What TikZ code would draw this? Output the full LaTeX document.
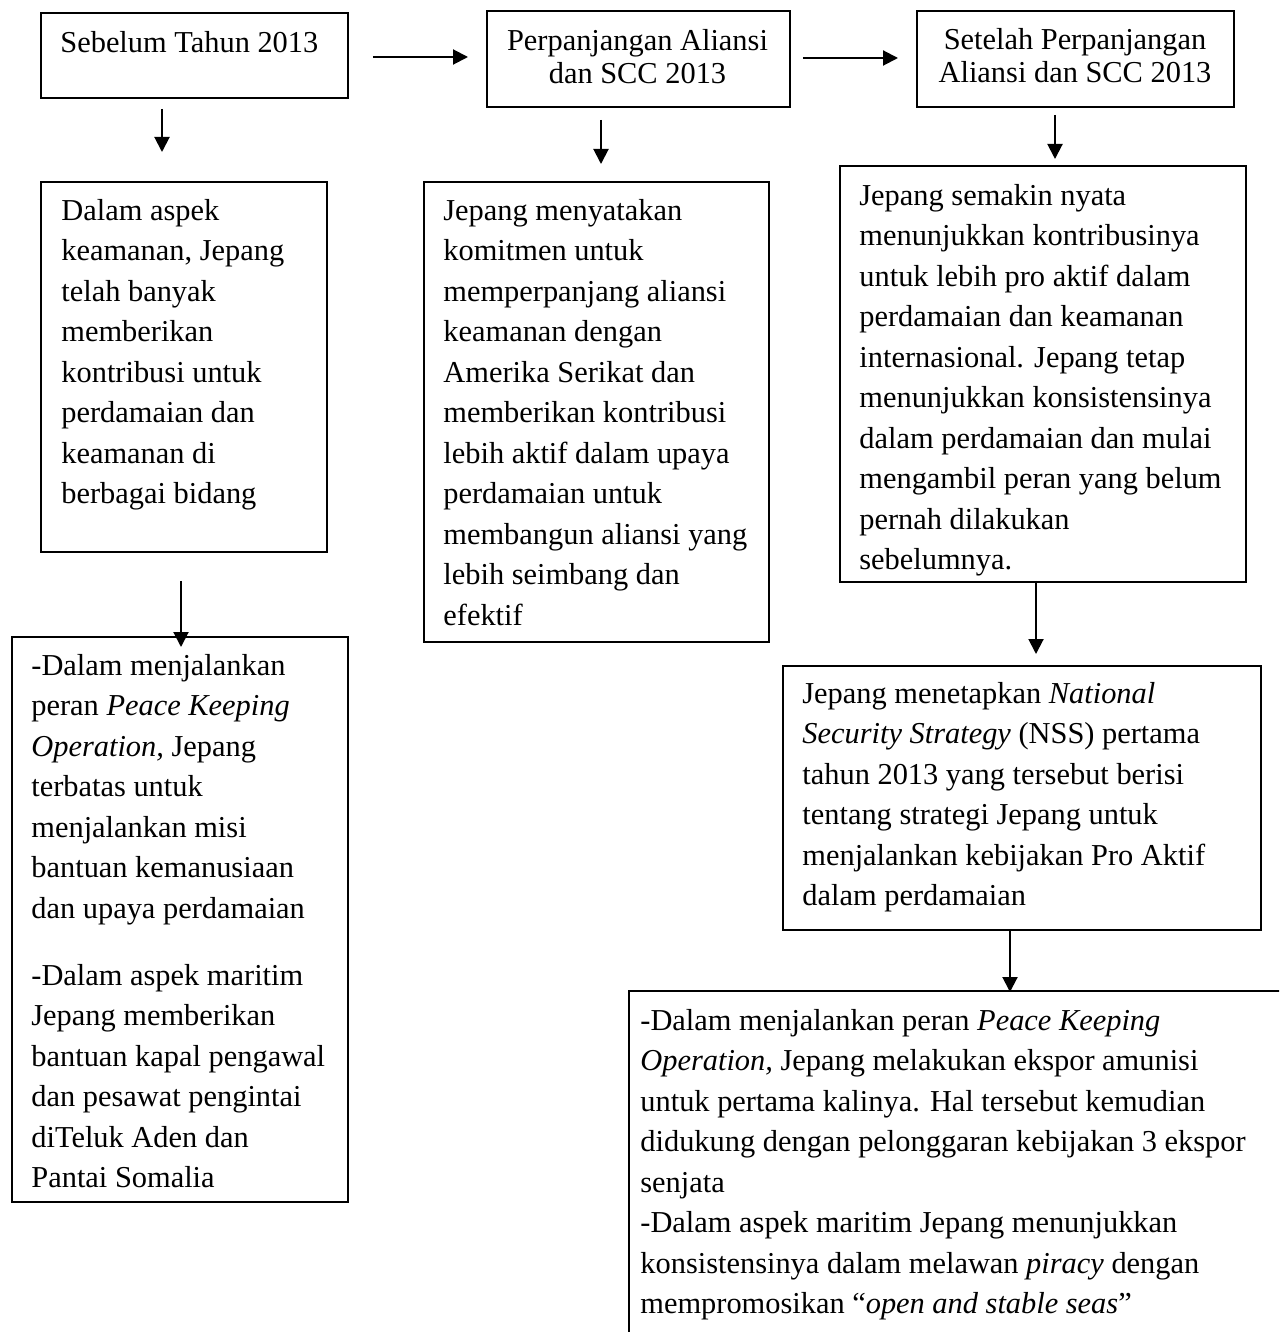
\documentclass[tikz,border=0pt]{standalone}
\usepackage{fontspec}
\setmainfont{Liberation Serif}
\usetikzlibrary{arrows.meta}
\begin{document}
\begin{tikzpicture}[x=0.5pt,y=-0.5pt,
  box/.style={draw,line width=0.9pt,inner sep=0pt,anchor=north west},
  txt/.style={inner sep=0pt,anchor=north west,align=left,font=\fontsize{15.2}{20.25}\selectfont},
  ctxt/.style={txt,anchor=north,align=center,font=\fontsize{15.2}{16.75}\selectfont},
  arr/.style={line width=1pt,-{Triangle[length=7.5pt,width=7.5pt]}}]
\useasboundingbox (0,0) rectangle (1279,1332);
\clip (0,0) rectangle (1279,1332);

% boxes
\node[box,minimum width=153.5pt,minimum height=42.5pt] (A) at (40,12) {};
\node[box,minimum width=151.5pt,minimum height=48pt] (B) at (486,10) {};
\node[box,minimum width=158.5pt,minimum height=48pt] (C) at (916,10) {};
\node[box,minimum width=143pt,minimum height=185pt] (D) at (40,181) {};
\node[box,minimum width=168pt,minimum height=282.5pt] (E) at (11,636) {};
\node[box,minimum width=172.5pt,minimum height=230pt] (F) at (423,181) {};
\node[box,minimum width=203pt,minimum height=208pt] (G) at (839,165) {};
\node[box,minimum width=239pt,minimum height=132pt] (H) at (782,665) {};
\node[box,minimum width=350pt,minimum height=200pt] (I) at (628,990) {};

% texts
\node[txt] (tA) at (60,23.6) {\strut Sebelum Tahun 2013};
\node[ctxt] (tB) at (637.5,26.5) {\strut Perpanjangan Aliansi\\dan SCC 2013};
\node[ctxt] (tC) at (1075,25.5) {\strut Setelah Perpanjangan\\Aliansi dan SCC 2013};
\node[txt] (tD) at (61,191.6) {\strut Dalam aspek\\keamanan, Jepang\\telah banyak\\memberikan\\kontribusi untuk\\perdamaian dan\\keamanan di\\berbagai bidang};
\node[txt] (tE) at (31,646.6) {\strut -Dalam menjalankan\\peran \textit{Peace Keeping}\\\textit{Operation,} Jepang\\terbatas untuk\\menjalankan misi\\bantuan kemanusiaan\\dan upaya perdamaian\\[13.25pt]-Dalam aspek maritim\\Jepang memberikan\\bantuan kapal pengawal\\dan pesawat pengintai\\diTeluk Aden dan\\Pantai Somalia};
\node[txt] (tF) at (443,191.6) {\strut Jepang menyatakan\\komitmen untuk\\memperpanjang aliansi\\keamanan dengan\\Amerika Serikat dan\\memberikan kontribusi\\lebih aktif dalam upaya\\perdamaian untuk\\membangun aliansi yang\\lebih seimbang dan\\efektif};
\node[txt] (tG) at (859,176.6) {\strut Jepang semakin nyata\\menunjukkan kontribusinya\\untuk lebih pro aktif dalam\\perdamaian dan keamanan\\internasional. Jepang tetap\\menunjukkan konsistensinya\\dalam perdamaian dan mulai\\mengambil peran yang belum\\pernah dilakukan\\sebelumnya.};
\node[txt] (tH) at (802,674.6) {\strut Jepang menetapkan \textit{National}\\\textit{Security Strategy} (NSS) pertama\\tahun 2013 yang tersebut berisi\\tentang strategi Jepang untuk\\menjalankan kebijakan Pro Aktif\\dalam perdamaian};
\node[txt] (tI) at (640,1001.6) {\strut -Dalam menjalankan peran \textit{Peace Keeping}\\\textit{Operation,} Jepang melakukan ekspor amunisi\\untuk pertama kalinya. Hal tersebut kemudian\\didukung dengan pelonggaran kebijakan 3 ekspor\\senjata\\-Dalam aspek maritim Jepang menunjukkan\\konsistensinya dalam melawan \textit{piracy} dengan\\mempromosikan “\textit{open and stable seas}”};

% arrow guide coordinates
\coordinate (yAB) at (0,57);
\coordinate (yBC) at (0,58);
\coordinate (xAD) at (162,0);
\coordinate (xBF) at (601,0);
\coordinate (xCG) at (1055,0);
\coordinate (xDE) at (181,0);
\coordinate (xGH) at (1036,0);
\coordinate (xHI) at (1010,0);

% arrows
\draw[arr,shorten <=12pt,shorten >=9pt] (A.east |- yAB) -- (B.west |- yAB);
\draw[arr,shorten <=6pt,shorten >=9pt] (B.east |- yBC) -- (C.west |- yBC);
\draw[arr,shorten <=5pt,shorten >=14.5pt] (A.south -| xAD) -- (D.north -| xAD);
\draw[arr,shorten <=6pt,shorten >=8.5pt] (B.south -| xBF) -- (F.north -| xBF);
\draw[arr,shorten <=3.5pt,shorten >=3pt] (C.south -| xCG) -- (G.north -| xCG);
\draw[arr,shorten <=14pt,shorten >=-5.5pt] (D.south -| xDE) -- (E.north -| xDE);
\draw[arr,shorten <=-1pt,shorten >=5.5pt] (G.south -| xGH) -- (H.north -| xGH);
\draw[arr,shorten >=-1pt] (H.south -| xHI) -- (I.north -| xHI);
\end{tikzpicture}
\end{document}
